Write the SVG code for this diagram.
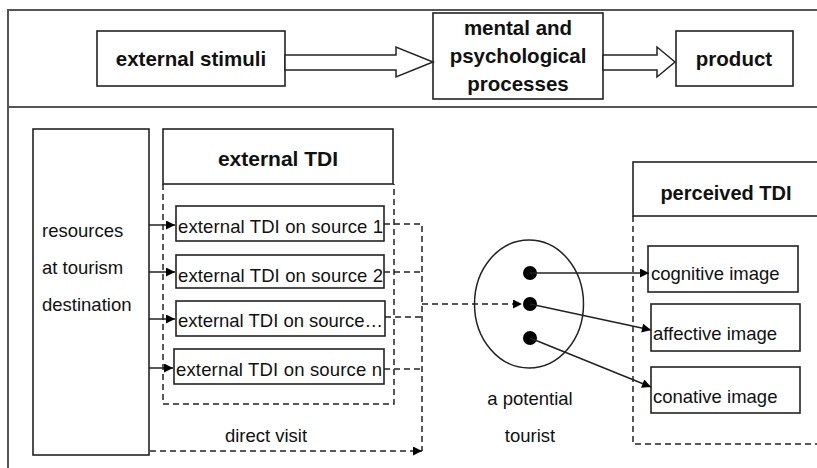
<svg xmlns="http://www.w3.org/2000/svg" width="817" height="468" viewBox="0 0 817 468">
<style>
.box{fill:#fff;stroke:#222;stroke-width:1.6}
.frame{fill:none;stroke:#555;stroke-width:2}
.dash{fill:none;stroke:#222;stroke-width:1.5;stroke-dasharray:6 4}
.solid{fill:none;stroke:#222;stroke-width:1.5}
.hd{font-family:"Liberation Sans",Arial,sans-serif;font-weight:bold;font-size:20.5px;fill:#111;text-anchor:middle}
.tx{font-family:"Liberation Sans",Arial,sans-serif;font-size:18.5px;fill:#111}
.dot{fill:#000}
</style>
<defs>
<marker id="ah" viewBox="0 0 10 10" refX="10" refY="5" markerWidth="10" markerHeight="9" markerUnits="userSpaceOnUse" orient="auto">
<path d="M0,0 L10,5 L0,10 Z" fill="#000"/>
</marker>
</defs>
<rect width="817" height="468" fill="#fff"/>
<g id="frame">
<line class="frame" x1="8" y1="10" x2="817" y2="10"/>
<line class="frame" x1="8" y1="107" x2="817" y2="107"/>
<line class="frame" x1="8" y1="9" x2="8" y2="468"/>
</g>
<g id="external-stimuli">
<rect class="box" x="97" y="31" width="188" height="55"/>
<text class="hd" x="191" y="66">external stimuli</text>
</g>
<g id="mental">
<rect class="box" x="433" y="13" width="170" height="86"/>
<text class="hd" x="518" y="35">mental and</text>
<text class="hd" x="518" y="63">psychological</text>
<text class="hd" x="518" y="91">processes</text>
</g>
<g id="product">
<rect class="box" x="676" y="31" width="117" height="55"/>
<text class="hd" x="734" y="66">product</text>
</g>
<g id="resources">
<rect class="box" x="33" y="129" width="116" height="326"/>
<text class="tx" x="42" y="237">resources</text>
<text class="tx" x="42" y="274">at tourism</text>
<text class="tx" x="42" y="311">destination</text>
</g>
<g id="external-tdi">
<rect class="box" x="163" y="129" width="230" height="55"/>
<text class="hd" x="278" y="166" style="font-size:21px">external TDI</text>
<path class="dash" d="M163,184 V404 H394 V184"/>
</g>
<g id="source1">
<rect class="box" x="176" y="206" width="208" height="35"/>
<text class="tx" x="178" y="233" textLength="205">external TDI on source 1</text>
</g>
<g id="source2">
<rect class="box" x="176" y="255" width="208" height="33"/>
<text class="tx" x="178" y="282" textLength="205">external TDI on source 2</text>
</g>
<g id="source3">
<rect class="box" x="176" y="301" width="209" height="35"/>
<text class="tx" x="178" y="327" textLength="205">external TDI on source…</text>
</g>
<g id="sourcen">
<rect class="box" x="174" y="349" width="210" height="35"/>
<text class="tx" x="176" y="376" textLength="206">external TDI on source n</text>
</g>
<g id="tourist">
<ellipse cx="529" cy="304" rx="54.5" ry="64" fill="none" stroke="#222" stroke-width="1.5"/>
<circle class="dot" cx="530" cy="273" r="7"/>
<circle class="dot" cx="530" cy="304" r="7"/>
<circle class="dot" cx="530" cy="338" r="7"/>
<text class="tx" x="530" y="405" text-anchor="middle">a potential</text>
<text class="tx" x="530" y="442" text-anchor="middle">tourist</text>
</g>
<g id="perceived-tdi">
<rect class="box" x="633" y="162" width="190" height="54"/>
<text class="hd" x="726" y="200" style="font-size:20px">perceived TDI</text>
<path class="dash" d="M633,216 V444 H817"/>
</g>
<g id="cognitive">
<rect class="box" x="648" y="246" width="150" height="46"/>
<text class="tx" x="651" y="280">cognitive image</text>
</g>
<g id="affective">
<rect class="box" x="651" y="304" width="149" height="47"/>
<text class="tx" x="653" y="340">affective image</text>
</g>
<g id="conative">
<rect class="box" x="651" y="367" width="149" height="46"/>
<text class="tx" x="653" y="403">conative image</text>
</g>
<g id="connectors">
<polygon points="285,55 396,55 396,47 433,62 396,77 396,70 285,70" fill="#fff" stroke="#222" stroke-width="1.5"/>
<polygon points="603,55 657,55 657,47 675,62 657,77 657,70 603,70" fill="#fff" stroke="#222" stroke-width="1.5"/>
<line class="solid" x1="149" y1="225" x2="175" y2="225" marker-end="url(#ah)"/>
<line class="solid" x1="149" y1="272" x2="175" y2="272" marker-end="url(#ah)"/>
<line class="solid" x1="149" y1="319" x2="175" y2="319" marker-end="url(#ah)"/>
<line class="solid" x1="149" y1="368" x2="173" y2="368" marker-end="url(#ah)"/>
<path class="dash" d="M384,224 H422 V451"/>
<path class="dash" d="M384,272 H422"/>
<path class="dash" d="M385,317 H422"/>
<path class="dash" d="M384,369 H422"/>
<path class="dash" d="M150,451 H422" marker-end="url(#ah)"/>
<path class="dash" d="M422,304 H522" marker-end="url(#ah)"/>
<line class="solid" x1="530" y1="273" x2="649" y2="273" marker-end="url(#ah)"/>
<line class="solid" x1="530" y1="304" x2="651" y2="330" marker-end="url(#ah)"/>
<line class="solid" x1="530" y1="338" x2="651" y2="387" marker-end="url(#ah)"/>
</g>
<text class="tx" x="266" y="442" text-anchor="middle">direct visit</text>
</svg>
